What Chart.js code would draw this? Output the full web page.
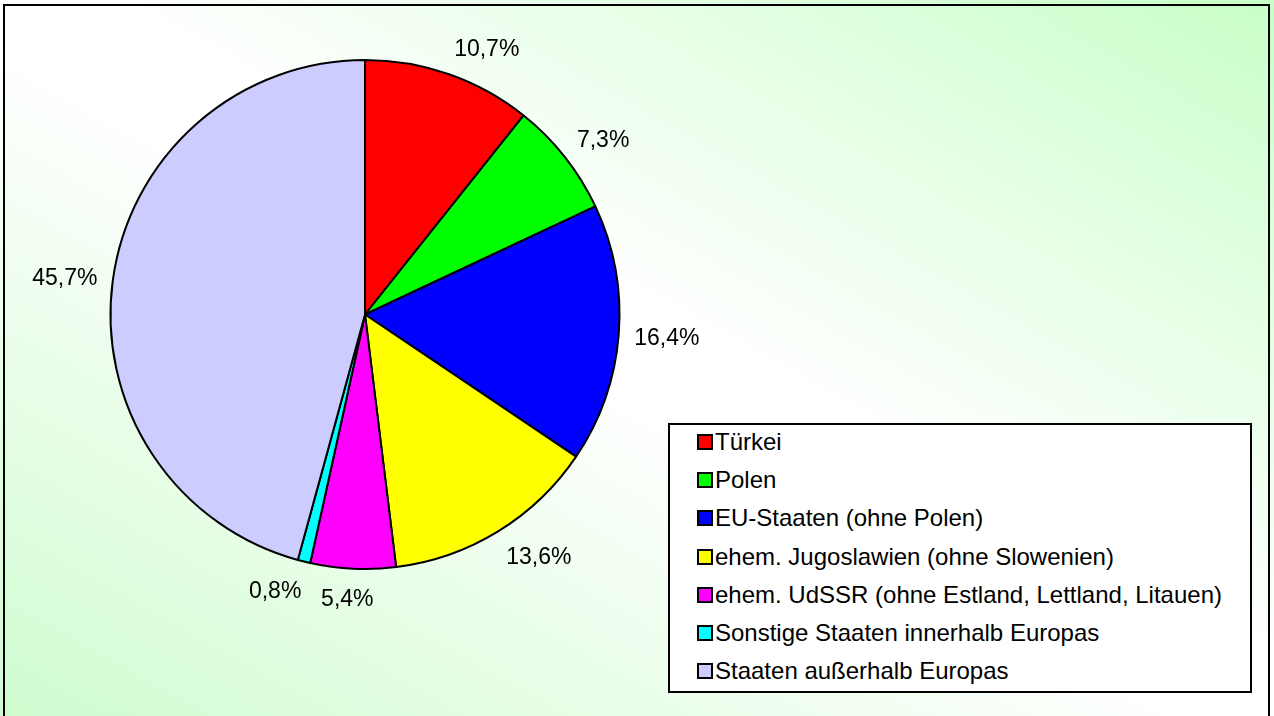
<!DOCTYPE html>
<html>
<head>
<meta charset="utf-8">
<script src="https://cdn.jsdelivr.net/npm/chart.js@4/dist/chart.umd.min.js"></script>
<style>
  html, body { margin: 0; padding: 0; }
  body {
    width: 1274px; height: 716px; overflow: hidden; position: relative;
    background: linear-gradient(to bottom left, #c8ffc8 0%, #ffffff 46%, #ffffff 53%, #cffccf 100%);
    font-family: "Liberation Sans", Arial, sans-serif;
  }
  #myChart { position: absolute; left: 0; top: 0; }
  #rahmen {
    position: absolute; left: 3px; top: 4px; width: 1263px; height: 720px;
    border: 2px solid #000; box-sizing: content-box;
  }
  #legende {
    position: absolute; left: 668px; top: 423px; width: 580px; height: 266px;
    border: 2px solid #000; background: #fff;
  }
  .zeile {
    position: absolute; left: 27px; height: 30px; display: flex; align-items: center;
    font-size: 24px; color: #000; white-space: nowrap;
  }
  .kasten {
    width: 12px; height: 12px; border: 2px solid #000; margin-right: 2px;
  }
</style>
</head>
<body>
<canvas id="myChart" width="1274" height="716"></canvas>
<div id="rahmen"></div>
<div id="legende"></div>
<script>
// Anteile in Prozent
const laender = [
  'Türkei',
  'Polen',
  'EU-Staaten (ohne Polen)',
  'ehem. Jugoslawien (ohne Slowenien)',
  'ehem. UdSSR (ohne Estland, Lettland, Litauen)',
  'Sonstige Staaten innerhalb Europas',
  'Staaten außerhalb Europas'
];
const anteile = [10.7, 7.3, 16.4, 13.6, 5.4, 0.8, 45.7];
const farben = ['#ff0000', '#00ff00', '#0000ff', '#ffff00', '#ff00ff', '#00ffff', '#ccccff'];

// Legende
const legende = document.querySelector('#legende');
laender.forEach((name, i) => {
  let zeile = document.createElement('div');
  zeile.className = 'zeile';
  zeile.style.top = (2 + i * 38.2) + 'px';
  let kasten = document.createElement('span');
  kasten.className = 'kasten';
  kasten.style.background = farben[i];
  zeile.appendChild(kasten);
  zeile.appendChild(document.createTextNode(name));
  legende.appendChild(zeile);
});

// Prozentwerte ausserhalb der Stuecke
const beschriftung = {
  id: 'beschriftung',
  afterDatasetsDraw(chart) {
    const ctx = chart.ctx;
    const meta = chart.getDatasetMeta(0);
    ctx.save();
    ctx.font = '23px "Liberation Sans", Arial, sans-serif';
    ctx.fillStyle = '#000';
    ctx.textAlign = 'center';
    ctx.textBaseline = 'middle';
    meta.data.forEach((arc, i) => {
      let txt = anteile[i].toFixed(1).replace('.', ',') + '%';
      let a = (arc.startAngle + arc.endAngle) / 2;
      let d = arc.outerRadius + 15.5;
      let hw = ctx.measureText(txt).width / 2;
      let hh = 13;
      let kx = Math.max(-1, Math.min(1, 4 * Math.cos(a)));
      let x = arc.x + d * Math.cos(a) + hw * kx;
      let y = arc.y + d * Math.sin(a) + hh * Math.sin(a) + 2;
      ctx.fillText(txt, x, y);
    });
    ctx.restore();
  }
};

const data = {
  labels: laender,
  datasets: [
    {
      data: anteile,
      backgroundColor: farben,
      borderColor: '#000',
      borderWidth: 2,
      hoverOffset: 0,
    },
  ],
};

const config = {
  type: 'pie',
  data: data,
  options: {
    responsive: false,
    animation: false,
    radius: 254.5,
    layout: { padding: { left: 0, right: 544, top: 0, bottom: 87 } },
    plugins: {
      legend: { display: false },
      tooltip: { enabled: false },
    },
  },
  plugins: [beschriftung],
};

let myChart = new Chart(document.querySelector('#myChart'), config);
</script>
</body>
</html>
